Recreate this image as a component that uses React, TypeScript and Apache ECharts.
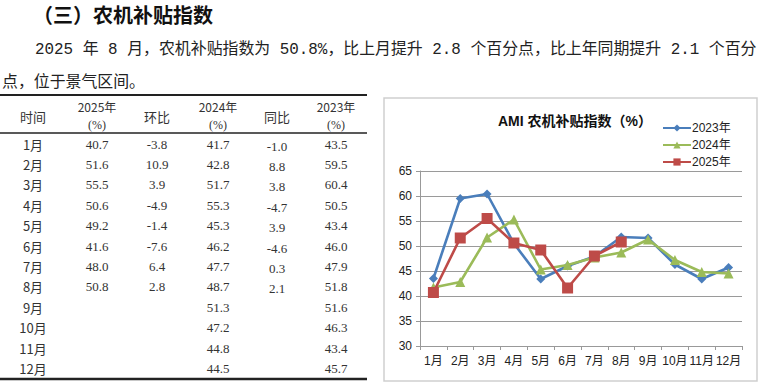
import React, { useEffect, useRef } from "react";
import * as echarts from "echarts";

const months = ["1月", "2月", "3月", "4月", "5月", "6月", "7月", "8月", "9月", "10月", "11月", "12月"];
const v2025 = [40.7, 51.6, 55.5, 50.6, 49.2, 41.6, 48.0, 50.8];
const v2024 = [41.7, 42.8, 51.7, 55.3, 45.3, 46.2, 47.7, 48.7, 51.3, 47.2, 44.8, 44.5];
const v2023 = [43.5, 59.5, 60.4, 50.5, 43.4, 46.0, 47.9, 51.8, 51.6, 46.3, 43.4, 45.7];
const momChange = [-3.8, 10.9, 3.9, -4.9, -1.4, -7.6, 6.4, 2.8];
const yoyChange = [-1.0, 8.8, 3.8, -4.7, 3.9, -4.6, 0.3, 2.1];
const seriesNames = ["2023年", "2024年", "2025年"];
const headingText = "（三）农机补贴指数";
const paraLine1 = "2025 年 8 月，农机补贴指数为 50.8%，比上月提升 2.8 个百分点，比上年同期提升 2.1 个百分";
const paraLine2 = "点，位于景气区间。";
const chartTitle = "AMI 农机补贴指数（%）";

const CJK = "'Noto Sans CJK SC'";
const SERIF = "'Liberation Serif', 'Noto Sans CJK SC'";
const MONO = "'Liberation Mono', 'Noto Sans CJK SC'";
const SANS = "'Liberation Sans', 'Noto Sans CJK SC'";

export default function App() {
  const ref = useRef<HTMLDivElement>(null);
  useEffect(() => {
    if (!ref.current) return;
    const chart = echarts.init(ref.current, undefined, { renderer: "svg" });

    const colX = [33, 97, 157, 218, 277, 336];
    const rowY0 = 144;
    const rowStep = 20.4;
    const tableColor = "#333";
    const fmt = (v: number) => v.toFixed(1);

    const graphics: any[] = [];
    graphics.push({
      type: "rect",
      shape: { x: 384, y: 98, width: 373, height: 283 },
      style: { fill: "#fff", stroke: "#cfcfcf", lineWidth: 1.5 },
      z: -10,
      silent: true,
    });
    graphics.push({
      type: "text",
      x: 33,
      y: 14,
      style: { text: headingText, font: `bold 20px ${CJK}`, fill: "#111", verticalAlign: "middle" },
    });
    graphics.push({
      type: "text",
      x: 35,
      y: 50,
      style: { text: paraLine1, font: `15.9px ${MONO}`, fill: "#222", verticalAlign: "middle" },
    });
    graphics.push({
      type: "text",
      x: 2,
      y: 83,
      style: { text: paraLine2, font: `15.9px ${MONO}`, fill: "#222", verticalAlign: "middle" },
    });
    const hline = (y: number, w: number) => ({
      type: "line",
      shape: { x1: 0, y1: y, x2: 367, y2: y },
      style: { stroke: "#222", lineWidth: w },
      silent: true,
    });
    graphics.push(hline(95, 2), hline(133, 1.6), hline(379, 2.5));
    const cell = (x: number, y: number, t: string, font = SERIF, size = 13) => ({
      type: "text",
      x,
      y,
      style: { text: t, font: `${size}px ${font}`, fill: tableColor, align: "center", verticalAlign: "middle" },
    });
    graphics.push(cell(colX[0], 116, "时间", CJK));
    graphics.push(cell(colX[2], 116, "环比", CJK));
    graphics.push(cell(colX[4], 116, "同比", CJK));
    [["2025年", 1], ["2024年", 3], ["2023年", 5]].forEach(([t, c]) => {
      graphics.push(cell(colX[c as number], 106, t as string, CJK, 12));
      graphics.push(cell(colX[c as number], 125, "(%)", SERIF, 12));
    });
    months.forEach((m, i) => {
      const y = rowY0 + i * rowStep;
      graphics.push(cell(colX[0], y, m, CJK));
      if (i < v2025.length) graphics.push(cell(colX[1], y, fmt(v2025[i])));
      if (i < momChange.length) graphics.push(cell(colX[2], y, fmt(momChange[i])));
      graphics.push(cell(colX[3], y, fmt(v2024[i])));
      if (i < yoyChange.length) graphics.push(cell(colX[4], y + 2, fmt(yoyChange[i])));
      graphics.push(cell(colX[5], y, fmt(v2023[i])));
    });

    const colors = ["#4A7EBB", "#9BBB59", "#BE4B48"];
    const symbols = ["diamond", "triangle", "rect"];
    const sizes = [9, 10, 11];
    const datas = [v2023, v2024, v2025];

    chart.setOption({
      animation: false,
      backgroundColor: "#fff",
      title: {
        text: chartTitle,
        left: 493,
        top: 109,
        textStyle: { fontSize: 14, fontWeight: "bold", color: "#111", fontFamily: SANS },
      },
      legend: {
        orient: "vertical",
        left: 657,
        top: 117,
        itemWidth: 28,
        itemHeight: 9,
        itemGap: 5,
        data: seriesNames,
        textStyle: { fontSize: 12, color: "#222", fontFamily: SANS, padding: [0, 0, 0, -4] },
      },
      grid: { left: 420, top: 171, width: 322, height: 175, containLabel: false },
      xAxis: {
        type: "category",
        data: months,
        boundaryGap: true,
        axisLine: { lineStyle: { color: "#999", width: 1 } },
        axisTick: { show: true, length: 4, lineStyle: { color: "#999" } },
        axisLabel: { fontSize: 12, color: "#222", margin: 9, fontFamily: SANS, interval: 0 },
      },
      yAxis: {
        type: "value",
        min: 30,
        max: 65,
        interval: 5,
        axisLine: { show: true, lineStyle: { color: "#999", width: 1 } },
        axisTick: { show: true, length: 4, lineStyle: { color: "#999" } },
        axisLabel: { fontSize: 12, color: "#222", margin: 8, fontFamily: SANS },
        splitLine: { lineStyle: { color: "#9a9a9a", width: 1 } },
      },
      series: datas.map((d, i) => ({
        name: seriesNames[i],
        type: "line",
        data: d,
        symbol: symbols[i],
        symbolSize: sizes[i],
        showAllSymbol: true,
        lineStyle: { color: colors[i], width: 2.6 },
        itemStyle: { color: colors[i] },
        z: 2 + i,
      })),
      graphic: graphics,
    });
    return () => chart.dispose();
  }, []);
  return (
    <div
      ref={ref}
      style={{ position: "absolute", left: 0, top: 0, width: 767, height: 387, background: "#fff" }}
    />
  );
}
